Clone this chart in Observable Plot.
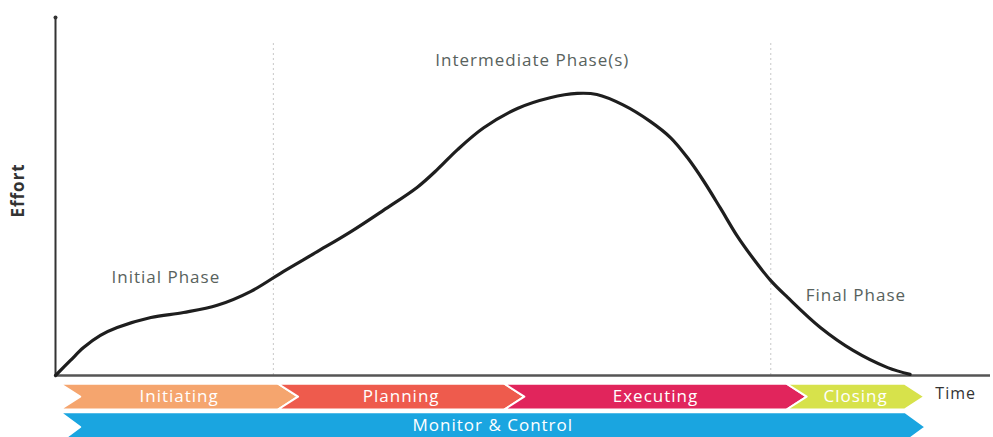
<!DOCTYPE html>
<html>
<head>
<meta charset="utf-8">
<script src="https://cdn.jsdelivr.net/npm/d3@7"></script>
<script src="https://cdn.jsdelivr.net/npm/@observablehq/plot@0.6"></script>
<style>
  html, body { margin: 0; padding: 0; background: #fff; }
  svg { display: block; }
</style>
</head>
<body>
<div id="chart"></div>
<script>
// Effort curve over time (time 0–100, effort 0–100)
const curveTime   = [0, 1.6, 3.0, 4.8, 6.6, 10.2, 13.7, 17.3, 20.9, 24.4, 28.0, 31.6, 35.1, 38.7, 40.9, 43.0, 45.8, 49.4, 52.9, 55.8, 57.9, 60.7, 63.6, 65.8, 67.6, 69.3, 71.1, 72.9, 74.7, 76.5, 78.3, 81.8, 85.3, 89.0, 91.4];
const curveEffort = [0, 4.2, 7.8, 11.2, 13.4, 16.2, 17.6, 19.6, 23.5, 29.1, 34.6, 40.2, 46.2, 52.6, 57.7, 63.1, 69.2, 74.6, 77.6, 78.8, 78.5, 75.6, 71.0, 66.4, 60.8, 54.4, 46.8, 39.0, 32.4, 26.5, 21.8, 13.4, 7.0, 2.2, 0.3];

// Phase boundaries (dotted)
const boundaryTime = [23.3, 76.5];

// Annotation labels
const phaseLabels = ["Initial Phase", "Intermediate Phase(s)", "Final Phase"];
const phaseLabelTime = [11.8, 51.0, 85.6];
const phaseLabelEffort = [27.4, 88.0, 22.3];

// Process groups (chevrons)
const processes = ["Initiating", "Planning", "Executing", "Closing"];
const processStart = [0.5, 23.8, 48.0, 78.2];
const processEnd   = [23.8, 48.0, 78.2, 90.8];
const processColors = ["#F5A56E", "#EE5B4D", "#E1255C", "#D7E24B"];

const monitorLabel = "Monitor & Control";
const monitorStart = 0.5;
const monitorEnd = 90.9;
const monitorColor = "#1AA5E0";

// ---- build ----
const curve = curveTime.map((t, i) => ({t, e: curveEffort[i]}));
const labels = phaseLabels.map((s, i) => ({s, t: phaseLabelTime[i], e: phaseLabelEffort[i]}));

const depth = 2.14;
function chevron(name, s, e, top, bot, color) {
  const mid = (top + bot) / 2;
  return [
    {name, color, t: s, y: top},
    {name, color, t: e, y: top},
    {name, color, t: e + depth, y: mid},
    {name, color, t: e, y: bot},
    {name, color, t: s, y: bot},
    {name, color, t: s + depth, y: mid}
  ];
}
const row1 = [-2.3, -9.5];
const row2 = [-10.3, -18.5];
const chevrons = [];
const chevLabels = [];
processes.forEach((p, i) => {
  chevrons.push(...chevron(p, processStart[i], processEnd[i], row1[0], row1[1], processColors[i]));
  chevLabels.push({s: p, t: (processStart[i] + processEnd[i]) / 2 + depth / 2, y: (row1[0] + row1[1]) / 2});
});
chevrons.push(...chevron(monitorLabel, monitorStart, monitorEnd, row2[0], row2[1], monitorColor));
chevLabels.push({s: monitorLabel, t: (monitorStart + monitorEnd) / 2 + depth / 2, y: -14.0});

const font = "'Open Sans', 'Noto Sans', sans-serif";

const chart = Plot.plot({
  width: 993,
  height: 437,
  marginLeft: 55,
  marginRight: 3,
  marginTop: 17,
  marginBottom: 62,
  x: {domain: [0, 100], axis: null},
  y: {domain: [0, 100], axis: null},
  color: {type: "identity"},
  style: {fontFamily: font, background: "#fff", letterSpacing: "1px"},
  marks: [
    Plot.ruleX(boundaryTime, {y1: 0, y2: 93.5, stroke: "#c8c8c8", strokeWidth: 1, strokeDasharray: "2,3"}),
    Plot.ruleY([0], {x1: 0, x2: 100, stroke: "#555", strokeWidth: 2.5}),
    Plot.ruleX([0], {y1: 0, y2: 100, stroke: "#333", strokeWidth: 2}),
    Plot.dot([{t: 0, e: 100}], {x: "t", y: "e", r: 2, fill: "#333"}),
    Plot.line(curve, {x: "t", y: "e", curve: "catmull-rom", stroke: "#1e1e1e", strokeWidth: 3.2, strokeLinecap: "round"}),
    Plot.text(labels, {x: "t", y: "e", text: "s", fontSize: 17, fill: "#58625d"}),
    Plot.line(chevrons, {x: "t", y: "y", z: "name", fill: "color", stroke: "#fff", strokeWidth: 2, curve: "linear-closed"}),
    Plot.text(chevLabels, {x: "t", y: "y", text: "s", fill: "#fff", fontSize: 17}),
    Plot.text(["Time"], {x: 94.1, y: -5.2, text: d => d, textAnchor: "start", fontSize: 16, fill: "#333"}),
    Plot.text(["Effort"], {x: -3.95, y: 51.7, text: d => d, rotate: -90, fontSize: 17, fontWeight: "bold", fill: "#333"})
  ]
});
document.getElementById("chart").appendChild(chart);
</script>
</body>
</html>
